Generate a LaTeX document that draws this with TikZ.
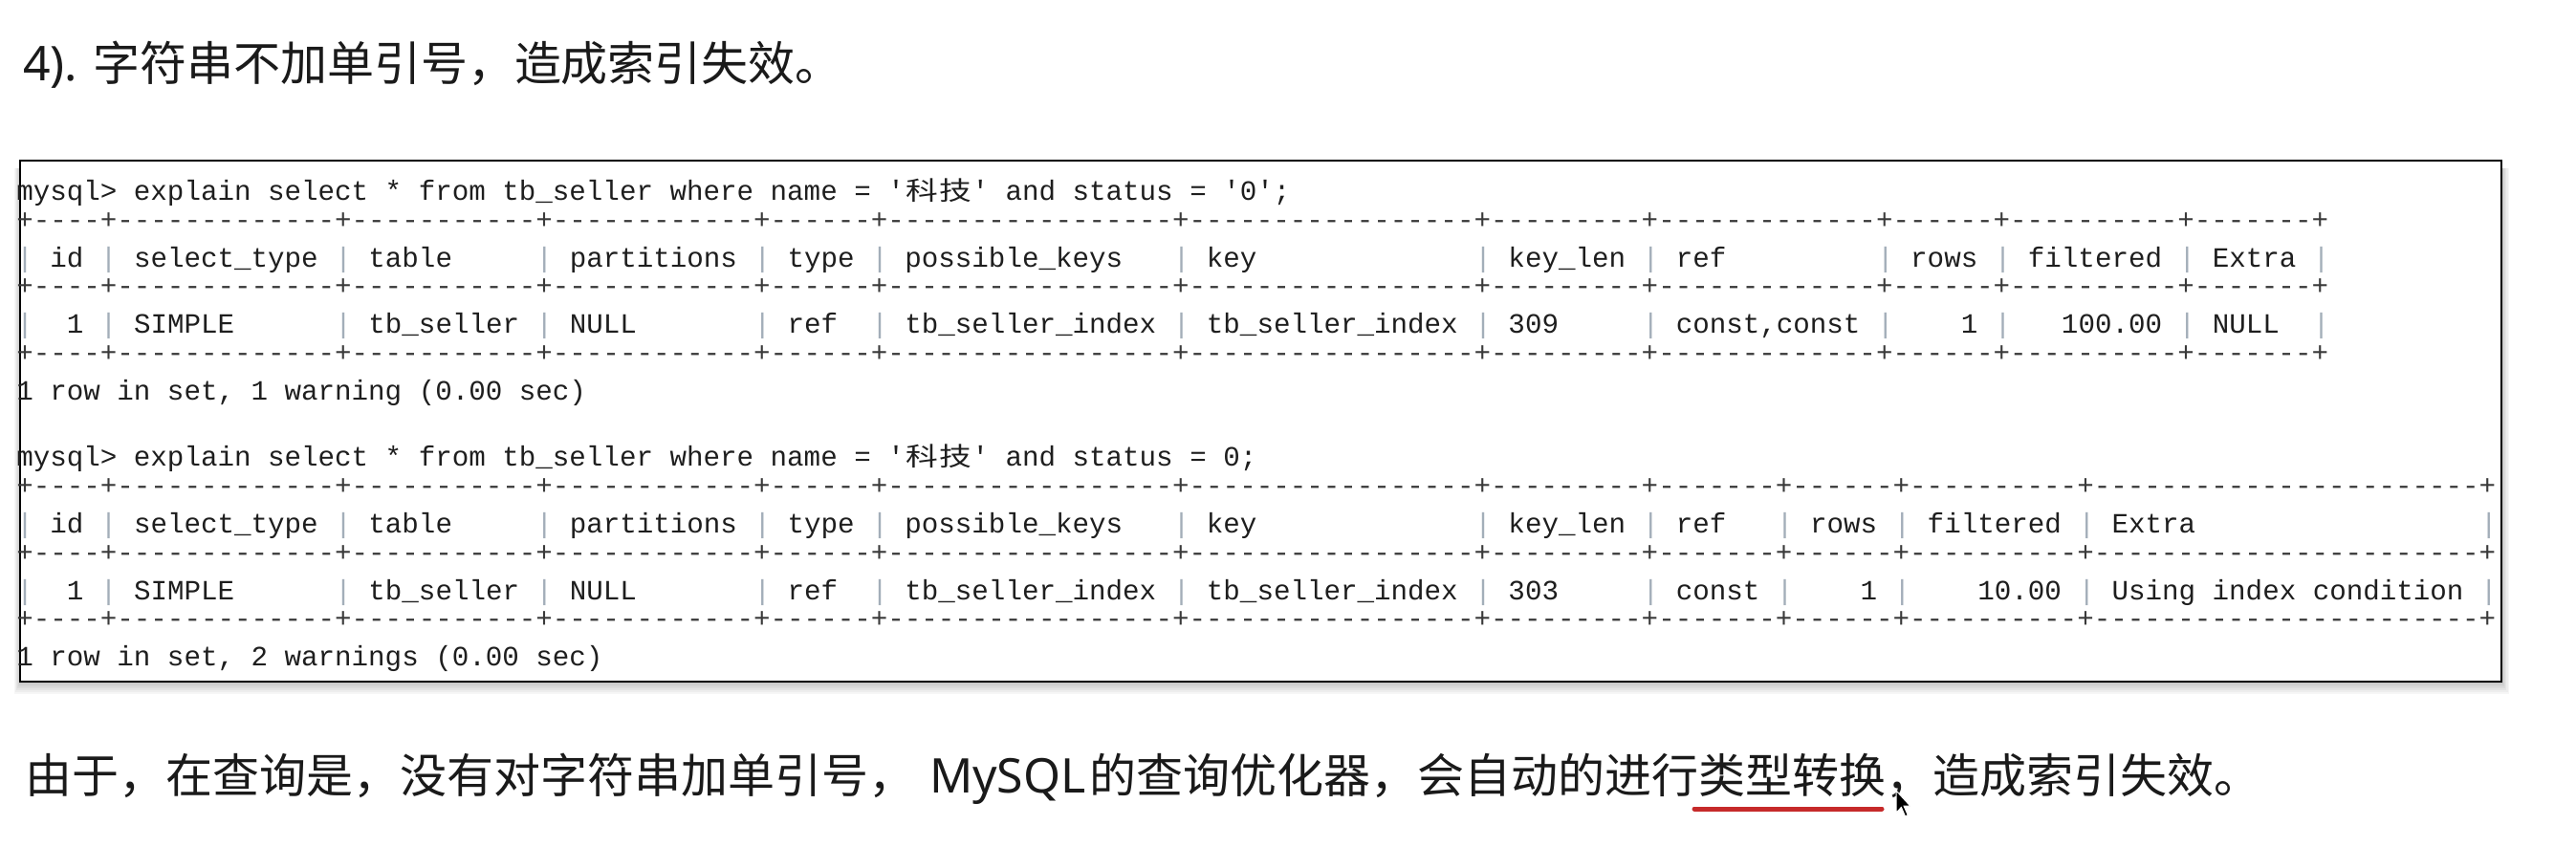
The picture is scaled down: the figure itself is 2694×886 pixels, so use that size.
\documentclass[tikz,border=0pt]{standalone}
\usepackage{fontspec}
\usepackage{graphicx}
\setmonofont{Liberation Mono}
\newfontfamily\cjkfont{Noto Sans CJK SC}
\newfontfamily\latinfont{Noto Sans}
\ExplSyntaxOn
\cs_new:Npn \reprep #1#2 { \prg_replicate:nn {#1} {#2} }
\ExplSyntaxOff
\definecolor{termtext}{HTML}{1E1E1E}
\definecolor{dashcol}{HTML}{3A3A3A}
\definecolor{barcol}{HTML}{A3AEB9}
\definecolor{ulred}{HTML}{C62A2A}
\definecolor{bodytext}{HTML}{1A1A1A}
\newcommand\cx[1]{17.3+#1*17.53}
\newcommand\by[1]{209.5+#1*34.8}
\newcommand\DashA{+\reprep{4}{-}+\reprep{13}{-}+\reprep{11}{-}+\reprep{12}{-}+\reprep{6}{-}+\reprep{17}{-}+\reprep{17}{-}+\reprep{9}{-}+\reprep{13}{-}+\reprep{6}{-}+\reprep{10}{-}+\reprep{7}{-}+}
\newcommand\DashB{+\reprep{4}{-}+\reprep{13}{-}+\reprep{11}{-}+\reprep{12}{-}+\reprep{6}{-}+\reprep{17}{-}+\reprep{17}{-}+\reprep{9}{-}+\reprep{7}{-}+\reprep{6}{-}+\reprep{10}{-}+\reprep{23}{-}+}
\tikzset{
  term/.style={font=\fontsize{29.2}{35}\selectfont\ttfamily, text=termtext, inner sep=0pt, outer sep=0pt, anchor=base west},
  barglyph/.style={term, text=barcol},
  dashglyph/.style={term, text=dashcol},
  cjkterm/.style={font=\fontsize{27}{30}\selectfont\cjkfont, text=termtext, inner sep=0pt, anchor=base},
  bigcjk/.style={font=\fontsize{49}{56}\selectfont\cjkfont, text=bodytext, inner sep=0pt, outer sep=0pt, anchor=base west},
  biglatin/.style={font=\fontsize{50}{56}\selectfont\latinfont, text=bodytext, inner sep=0pt, outer sep=0pt, anchor=base west},
}
\begin{document}
\begin{tikzpicture}[x=1pt,y=-1pt]
\useasboundingbox (0,0) rectangle (2694,886);
\fill[white] (0,0) rectangle (2694,886);
% title
\node[biglatin] (t1) at (24,84) {4).};
\node[bigcjk] (t2) at (97,84) {字符串不加单引号，造成索引失效。};
% shadow
\foreach \s in {1,3,5,7,9,11,13}
  \fill[black,opacity=0.035] ({21-0.5*\s},176) rectangle ({2616+0.6*\s},{713+\s});
% box
\node[draw=black, line width=2.6pt, fill=white, inner sep=0pt, outer sep=0pt, minimum width=2595pt, minimum height=545pt, anchor=north west] (box) at (21,168) {};
% prompt 1
\node[term] (p1) at ({\cx{0}},{\by{0}}) {mysql> explain select * from tb\_seller where name = '};
\node[cjkterm] (p1a) at ({\cx{54}},{\by{0}}) {\scalebox{1.25}[1]{科}};
\node[cjkterm] (p1b) at ({\cx{56}},{\by{0}}) {\scalebox{1.25}[1]{技}};
\node[term] (p1c) at ({\cx{57}},{\by{0}}) {' and status = '0';};
% table 1
\foreach \k [count=\i] in {1,3,5}
  \node[dashglyph] (dA\i) at ({\cx{0}},{\by{\k}-5}) {\DashA};
\foreach \c [count=\i] in {0,5,19,31,44,51,69,87,97,111,118,129,137} {
  \node[barglyph] (bAh\i) at ({\cx{\c}},{\by{2}}) {|};
  \node[barglyph] (bAd\i) at ({\cx{\c}},{\by{4}}) {|};
}
\foreach \c/\txt [count=\i] in {2/id,7/select\_type,21/table,33/partitions,46/type,53/possible\_keys,71/key,89/key\_len,99/ref,113/rows,120/filtered,131/Extra}
  \node[term] (hA\i) at ({\cx{\c}},{\by{2}}) {\txt};
\foreach \c/\txt [count=\i] in {3/1,7/SIMPLE,21/tb\_seller,33/NULL,46/ref,53/tb\_seller\_index,71/tb\_seller\_index,89/309,99/{const,const},116/1,122/100.00,131/NULL}
  \node[term] (vA\i) at ({\cx{\c}},{\by{4}}) {\txt};
\node[term] (r1) at ({\cx{0}},{\by{6}}) {1 row in set, 1 warning (0.00 sec)};
% prompt 2
\node[term] (p2) at ({\cx{0}},{\by{8}}) {mysql> explain select * from tb\_seller where name = '};
\node[cjkterm] (p2a) at ({\cx{54}},{\by{8}}) {\scalebox{1.25}[1]{科}};
\node[cjkterm] (p2b) at ({\cx{56}},{\by{8}}) {\scalebox{1.25}[1]{技}};
\node[term] (p2c) at ({\cx{57}},{\by{8}}) {' and status = 0;};
% table 2
\foreach \k [count=\i] in {9,11,13}
  \node[dashglyph] (dB\i) at ({\cx{0}},{\by{\k}-5}) {\DashB};
\foreach \c [count=\i] in {0,5,19,31,44,51,69,87,97,105,112,123,147} {
  \node[barglyph] (bBh\i) at ({\cx{\c}},{\by{10}}) {|};
  \node[barglyph] (bBd\i) at ({\cx{\c}},{\by{12}}) {|};
}
\foreach \c/\txt [count=\i] in {2/id,7/select\_type,21/table,33/partitions,46/type,53/possible\_keys,71/key,89/key\_len,99/ref,107/rows,114/filtered,125/Extra}
  \node[term] (hB\i) at ({\cx{\c}},{\by{10}}) {\txt};
\foreach \c/\txt [count=\i] in {3/1,7/SIMPLE,21/tb\_seller,33/NULL,46/ref,53/tb\_seller\_index,71/tb\_seller\_index,89/303,99/const,110/1,117/10.00,125/Using index condition}
  \node[term] (vB\i) at ({\cx{\c}},{\by{12}}) {\txt};
\node[term] (r2) at ({\cx{0}},{\by{14}}) {1 row in set, 2 warnings (0.00 sec)};
% bottom sentence
\node[bigcjk] (s1) at (27,829) {由于，在查询是，没有对字符串加单引号，};
\node[biglatin] (s2) at (972,829) {MySQL};
\node[bigcjk] (s3) at (1139,829) {的查询优化器，会自动的进行类型转换，造成索引失效。};
% red underline
\coordinate (u1) at (1772,846);
\coordinate (u2) at (1968,846);
\draw[ulred, line width=5pt, line cap=round] (u1) -- (u2);
% mouse cursor
\fill[black, draw=white, line width=1pt] (1983,827) -- ++(0,23) -- ++(5.4,-5.5) -- ++(4.1,9.5) -- ++(2.7,-1.4) -- ++(-4.1,-9.4) -- ++(6.7,0) -- cycle;
\end{tikzpicture}
\end{document}
